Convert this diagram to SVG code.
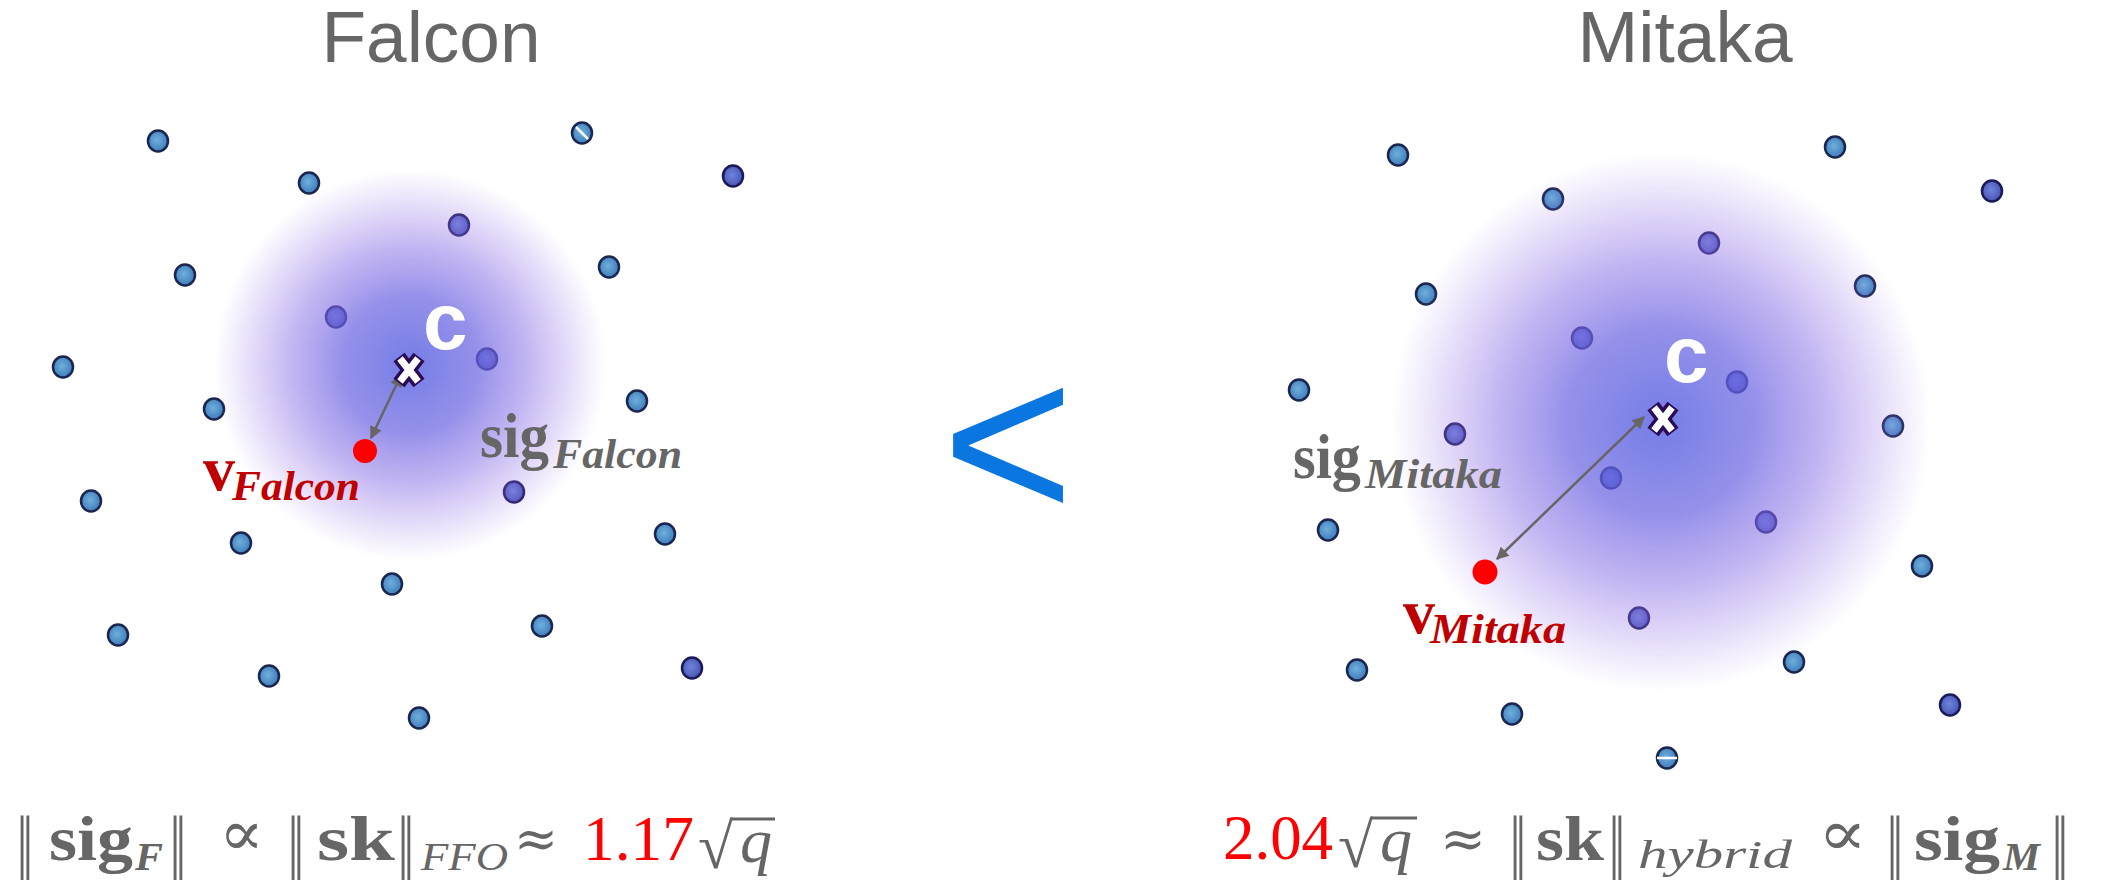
<svg xmlns="http://www.w3.org/2000/svg" xmlns:xlink="http://www.w3.org/1999/xlink" width="2101" height="880" viewBox="0 0 2101 880">
<defs>
  <radialGradient id="dotFill" cx="0.45" cy="0.45" r="0.6">
    <stop offset="0" stop-color="#6fb0dc"/>
    <stop offset="1" stop-color="#3b78b8"/>
  </radialGradient>
  <radialGradient id="dotFillP" cx="0.45" cy="0.45" r="0.6">
    <stop offset="0" stop-color="#6f84dc"/>
    <stop offset="1" stop-color="#4650b0"/>
  </radialGradient>
  <radialGradient id="cloud" cx="0.5" cy="0.5" r="0.5">
    <stop offset="0" stop-color="#5560e0" stop-opacity="0.82"/>
    <stop offset="0.35" stop-color="#6c66e2" stop-opacity="0.72"/>
    <stop offset="0.6" stop-color="#8a70e6" stop-opacity="0.52"/>
    <stop offset="0.82" stop-color="#9a74e8" stop-opacity="0.24"/>
    <stop offset="1" stop-color="#a080ee" stop-opacity="0"/>
  </radialGradient>
  <marker id="ah" viewBox="0 0 10 10" refX="9" refY="5" markerWidth="6" markerHeight="5" orient="auto-start-reverse" markerUnits="strokeWidth">
    <path d="M0,0 L10,5 L0,10 Z" fill="#666666"/>
  </marker>
  <g id="dot"><ellipse rx="10" ry="10.5" fill="url(#dotFill)" stroke="#1a2550" stroke-width="2.5"/></g>
  <g id="dotP"><ellipse rx="10" ry="10.5" fill="url(#dotFillP)" stroke="#1a1a5a" stroke-width="2.5"/></g>
  <g id="xmark">
    <path d="M-10,-13 L10,13 M10,-13 L-10,13" stroke="#2a0a55" stroke-width="14"/>
    <path d="M-9,-11.5 L9,11.5 M9,-11.5 L-9,11.5" stroke="#ffffff" stroke-width="7"/>
  </g>
</defs>
<style>
  .title { font-family: "Liberation Sans", Arial, sans-serif; font-size: 73px; fill: #666666; text-anchor: middle; }
  .c { font-family: "Liberation Sans", Arial, sans-serif; font-size: 80px; font-weight: bold; fill: #ffffff; }
  .lblMain { font-family: "Liberation Serif", "DejaVu Serif", serif; font-size: 64px; font-weight: bold; }
  .lblSub { font-family: "Liberation Serif", "DejaVu Serif", serif; font-size: 42px; font-weight: bold; font-style: italic; }
  .gray { fill: #666666; }
  .dred { fill: #c00000; }
  .f { font-family: "Liberation Serif", "DejaVu Serif", serif; font-size: 64px; fill: #666666; }
  .fb { font-weight: bold; }
  .fi { font-style: italic; }
  .fs { font-size: 40px; }
  .bar { font-family: "DejaVu Serif", serif; font-size: 66px; fill: #666666; }
  .sym { font-family: "DejaVu Serif", serif; font-size: 54px; fill: #666666; }
  .prop { font-size: 64px; }
  .red { fill: #ff0000; }
  .arrow { stroke: #666666; stroke-width: 2.5; fill: none; marker-start: url(#ah); marker-end: url(#ah); }
</style>
<rect width="2101" height="880" fill="#ffffff"/>

<g id="falcon-title"><text class="title" x="431" y="62">Falcon</text></g>
<g id="mitaka-title"><text class="title" x="1685" y="62">Mitaka</text></g>

<g id="falcon-lattice">
  <use href="#dot" x="158" y="141"/>
  <use href="#dot" x="582" y="133"/>
  <line x1="576" y1="127" x2="588" y2="139" stroke="#ffffff" stroke-width="2.5"/>
  <use href="#dot" x="309" y="183"/>
  <use href="#dotP" x="733" y="176"/>
  <use href="#dotP" x="459" y="225"/>
  <use href="#dot" x="185" y="275"/>
  <use href="#dot" x="609" y="267"/>
  <use href="#dotP" x="336" y="317"/>
  <use href="#dotP" x="487" y="359"/>
  <use href="#dot" x="63" y="367"/>
  <use href="#dot" x="214" y="409"/>
  <use href="#dot" x="637" y="401"/>
  <use href="#dot" x="91" y="501"/>
  <use href="#dotP" x="514" y="492"/>
  <use href="#dot" x="241" y="543"/>
  <use href="#dot" x="665" y="534"/>
  <use href="#dot" x="392" y="584"/>
  <use href="#dot" x="118" y="635"/>
  <use href="#dot" x="542" y="626"/>
  <use href="#dot" x="269" y="676"/>
  <use href="#dotP" x="692" y="668"/>
  <use href="#dot" x="419" y="718"/>
</g>

<g id="mitaka-lattice">
  <use href="#dot" x="1398" y="155"/>
  <use href="#dot" x="1835" y="147"/>
  <use href="#dot" x="1553" y="199"/>
  <use href="#dotP" x="1992" y="191"/>
  <use href="#dotP" x="1709" y="243"/>
  <use href="#dot" x="1426" y="294"/>
  <use href="#dot" x="1865" y="286"/>
  <use href="#dotP" x="1582" y="338"/>
  <use href="#dotP" x="1737" y="382"/>
  <use href="#dot" x="1299" y="390"/>
  <use href="#dotP" x="1455" y="434"/>
  <use href="#dot" x="1893" y="426"/>
  <use href="#dotP" x="1611" y="478"/>
  <use href="#dot" x="1328" y="530"/>
  <use href="#dotP" x="1766" y="522"/>
  <use href="#dot" x="1922" y="566"/>
  <use href="#dotP" x="1639" y="618"/>
  <use href="#dot" x="1357" y="670"/>
  <use href="#dot" x="1794" y="662"/>
  <use href="#dot" x="1512" y="714"/>
  <use href="#dotP" x="1950" y="705"/>
  <use href="#dot" x="1667" y="758"/>
  <line x1="1657" y1="758" x2="1677" y2="758" stroke="#ffffff" stroke-width="2.5"/>
</g>

<g id="falcon-cloud"><circle cx="410" cy="365" r="196" fill="url(#cloud)"/></g>
<g id="mitaka-cloud"><circle cx="1661" cy="422" r="270" fill="url(#cloud)"/></g>

<g id="connectors">
  <line class="arrow" x1="371" y1="438" x2="401" y2="375"/>
  <line class="arrow" x1="1497" y1="559" x2="1644" y2="417"/>
</g>

<g id="falcon-center">
  <use href="#xmark" x="409" y="370"/>
  <text class="c" x="423" y="349">c</text>
</g>
<g id="mitaka-center">
  <use href="#xmark" x="1663" y="419"/>
  <text class="c" x="1664" y="382">c</text>
</g>

<g id="falcon-v">
  <circle cx="365" cy="451" r="12" fill="#ff0000"/>
  <text class="lblMain dred" x="203" y="490">v</text>
  <text class="lblSub dred" x="232" y="500" textLength="128" lengthAdjust="spacingAndGlyphs">Falcon</text>
</g>
<g id="falcon-sig">
  <text class="lblMain gray" x="480" y="457" textLength="69" lengthAdjust="spacingAndGlyphs">sig</text>
  <text class="lblSub gray" x="553" y="468" textLength="129" lengthAdjust="spacingAndGlyphs">Falcon</text>
</g>

<g id="mitaka-v">
  <circle cx="1485" cy="572" r="12.5" fill="#ff0000"/>
  <text class="lblMain dred" x="1403" y="633">v</text>
  <text class="lblSub dred" x="1430" y="643" textLength="136" lengthAdjust="spacingAndGlyphs">Mitaka</text>
</g>
<g id="mitaka-sig">
  <text class="lblMain gray" x="1293" y="478" textLength="68" lengthAdjust="spacingAndGlyphs">sig</text>
  <text class="lblSub gray" x="1365" y="488" textLength="137" lengthAdjust="spacingAndGlyphs">Mitaka</text>
</g>

<g id="less-than">
  <text x="942" y="520" font-family="Liberation Sans, Arial, sans-serif" font-size="226" fill="#0a76df">&lt;</text>
</g>

<g id="falcon-formula">
  <text class="bar" x="16" y="866" textLength="18" lengthAdjust="spacingAndGlyphs">‖</text>
  <text class="f fb" x="49" y="860" textLength="84" lengthAdjust="spacingAndGlyphs">sig</text>
  <text class="f fb fi fs" x="135" y="870" textLength="28" lengthAdjust="spacingAndGlyphs">F</text>
  <text class="bar" x="169" y="866" textLength="18" lengthAdjust="spacingAndGlyphs">‖</text>
  <text class="sym prop" x="219" y="855" textLength="45" lengthAdjust="spacingAndGlyphs">∝</text>
  <text class="bar" x="287" y="866" textLength="18" lengthAdjust="spacingAndGlyphs">‖</text>
  <text class="f fb" x="317" y="860" textLength="78" lengthAdjust="spacingAndGlyphs">sk</text>
  <text class="bar" x="397" y="866" textLength="18" lengthAdjust="spacingAndGlyphs">‖</text>
  <text class="f fi fs" x="421" y="870" textLength="87" lengthAdjust="spacingAndGlyphs">FFO</text>
  <text class="sym" x="514" y="857" textLength="44" lengthAdjust="spacingAndGlyphs">≈</text>
  <text class="f red" x="583" y="860" textLength="111" lengthAdjust="spacingAndGlyphs">1.17</text>
  <text class="f" x="698" y="868">√</text>
  <line x1="731" y1="819" x2="775" y2="819" stroke="#666666" stroke-width="3"/>
  <text class="f fi" x="740" y="862">q</text>
</g>

<g id="mitaka-formula">
  <text class="f red" x="1223" y="859" textLength="110" lengthAdjust="spacingAndGlyphs">2.04</text>
  <text class="f" x="1338" y="867">√</text>
  <line x1="1371" y1="818" x2="1417" y2="818" stroke="#666666" stroke-width="3"/>
  <text class="f fi" x="1380" y="861">q</text>
  <text class="sym" x="1440" y="857" textLength="46" lengthAdjust="spacingAndGlyphs">≈</text>
  <text class="bar" x="1509" y="866" textLength="18" lengthAdjust="spacingAndGlyphs">‖</text>
  <text class="f fb" x="1536" y="860" textLength="68" lengthAdjust="spacingAndGlyphs">sk</text>
  <text class="bar" x="1608" y="866" textLength="18" lengthAdjust="spacingAndGlyphs">‖</text>
  <text class="f fi fs" x="1638" y="868" textLength="154" lengthAdjust="spacingAndGlyphs">hybrid</text>
  <text class="sym prop" x="1818" y="855" textLength="49" lengthAdjust="spacingAndGlyphs">∝</text>
  <text class="bar" x="1886" y="866" textLength="18" lengthAdjust="spacingAndGlyphs">‖</text>
  <text class="f fb" x="1914" y="860" textLength="86" lengthAdjust="spacingAndGlyphs">sig</text>
  <text class="f fb fi fs" x="2003" y="870" textLength="37" lengthAdjust="spacingAndGlyphs">M</text>
  <text class="bar" x="2051" y="866" textLength="18" lengthAdjust="spacingAndGlyphs">‖</text>
</g>
</svg>
